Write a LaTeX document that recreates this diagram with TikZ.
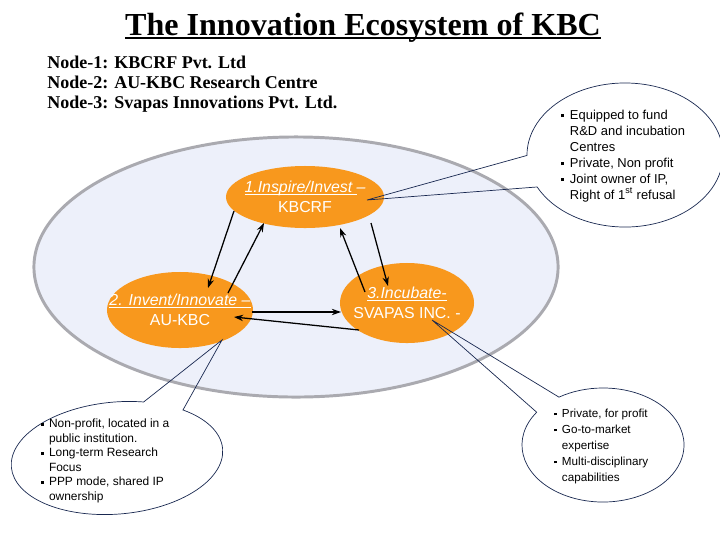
\documentclass[tikz,border=0pt]{standalone}
\usepackage{fontspec}
\setmainfont{Liberation Serif}
\setsansfont{Liberation Sans}
\usetikzlibrary{arrows.meta,shapes.geometric,shapes.callouts}

\definecolor{kbcorange}{RGB}{248,152,29}
\definecolor{ecofill}{RGB}{237,240,250}
\definecolor{ecoline}{RGB}{170,170,176}
\definecolor{noteline}{RGB}{25,40,80}

\newcommand{\ulbox}[3]{\leavevmode\setbox0\hbox{#3}\rlap{\rule[-#1]{\wd0}{#2}}\box0}
\newcommand{\sqb}{\rule[0.3ex]{0.45ex}{0.45ex}}

\begin{document}
\begin{tikzpicture}[
        x=0.025cm,
        y=-0.025cm,
        every node/.style={
            inner sep=0pt
        },
        hub/.style={
            ellipse,
            fill=kbcorange,
            text=white,
            align=center,
            inner xsep=-40pt,
            inner ysep=-12pt,
            font=\sffamily\fontsize{11.3}{14.2}\selectfont
        },
        flow/.style={
            -{Stealth[length=6.5pt,width=4.5pt]},
            line width=0.9pt
        },
        note/.style={
            ellipse callout,
            draw=noteline,
            line width=0.5pt
        },
        notetext/.style={
            anchor=west,
            text=black
        }
    ]
    \useasboundingbox (0,0) rectangle (720,540);

    \node[anchor=base, font=\bfseries\fontsize{22.8}{26}\selectfont] (title) at (363,35)
        {\ulbox{3pt}{1.4pt}{The Innovation Ecosystem of KBC}};
    \node[anchor=west, align=left, font=\bfseries\fontsize{12.8}{14.2}\selectfont] (hdr) at (47,84)
        {Node-1: KBCRF Pvt. Ltd\\Node-2: AU-KBC Research Centre\\Node-3: Svapas Innovations Pvt. Ltd.};

    \node[ellipse, draw=ecoline, line width=2.1pt, fill=ecofill,
        minimum width=13.1cm, minimum height=6.5cm] (eco) at (296,267) {};

    \node[hub, minimum width=3.95cm, minimum height=1.55cm] (1) at (305,197)
        {{\itshape\ulbox{1.5pt}{0.6pt}{1.Inspire/Invest\ }--}\\KBCRF};
    \node[hub, minimum width=3.65cm, minimum height=1.9cm] (2) at (180,310)
        {{\itshape\ulbox{1.5pt}{0.6pt}{2. Invent/Innovate --}}\\AU-KBC};
    \node[hub, minimum width=3.35cm, minimum height=2cm] (3) at (407,303)
        {{\itshape\ulbox{1.5pt}{0.6pt}{3.Incubate-}}\\SVAPAS INC. -};

    \draw[flow] ([shift={(-71,14)}]1.center) -- ([shift={(28,-22)}]2.center);
    \draw[flow] ([shift={(48,-17)}]2.center) -- ([shift={(-41,26)}]1.center);
    \draw[flow] ([shift={(-42,-11)}]3.center) -- ([shift={(35,31)}]1.center);
    \draw[flow] ([shift={(66,26)}]1.center) -- ([shift={(-19,-17)}]3.center);
    \draw[flow] ([shift={(72,2)}]2.center) -- ([shift={(-66,9)}]3.center);
    \draw[flow] ([shift={(-48,27)}]3.center) -- ([shift={(54,7)}]2.center);

    \node[note, minimum width=4.9cm, minimum height=3.6cm, callout pointer arc=26,
        callout absolute pointer={([shift={(62,3)}]1.center)}] (c1) at (625,155) {};
    \node[note, minimum width=5.3cm, minimum height=2.8cm, rotate=5, callout pointer arc=24,
        callout absolute pointer={([shift={(42,30)}]2.center)}] (c2) at (117,458) {};
    \node[note, minimum width=4.05cm, minimum height=2.85cm, callout pointer arc=22,
        callout absolute pointer={([shift={(25,17)}]3.center)}] (c3) at (603,445) {};

    \node[notetext, font=\sffamily\fontsize{9.2}{11.4}\selectfont] (t1) at (561,156)
        {\begin{tabular}{@{}l@{\hspace{4pt}}l@{}}
            \sqb & Equipped to fund\\
                 & R\&D and incubation\\
                 & Centres\\
            \sqb & Private, Non profit\\
            \sqb & Joint owner of IP,\\
                 & Right of 1\textsuperscript{st} refusal
        \end{tabular}};
    \node[notetext, font=\sffamily\fontsize{8.5}{10.3}\selectfont] (t2) at (41,461)
        {\begin{tabular}{@{}l@{\hspace{3.5pt}}l@{}}
            \sqb & Non-profit, located in a\\
                 & public institution.\\
            \sqb & Long-term Research\\
                 & Focus\\
            \sqb & PPP mode, shared IP\\
                 & ownership
        \end{tabular}};
    \node[notetext, font=\sffamily\fontsize{8.3}{11.4}\selectfont] (t3) at (554,446)
        {\begin{tabular}{@{}l@{\hspace{3.5pt}}l@{}}
            \sqb & Private, for profit\\
            \sqb & Go-to-market\\
                 & expertise\\
            \sqb & Multi-disciplinary\\
                 & capabilities
        \end{tabular}};
\end{tikzpicture}
\end{document}
